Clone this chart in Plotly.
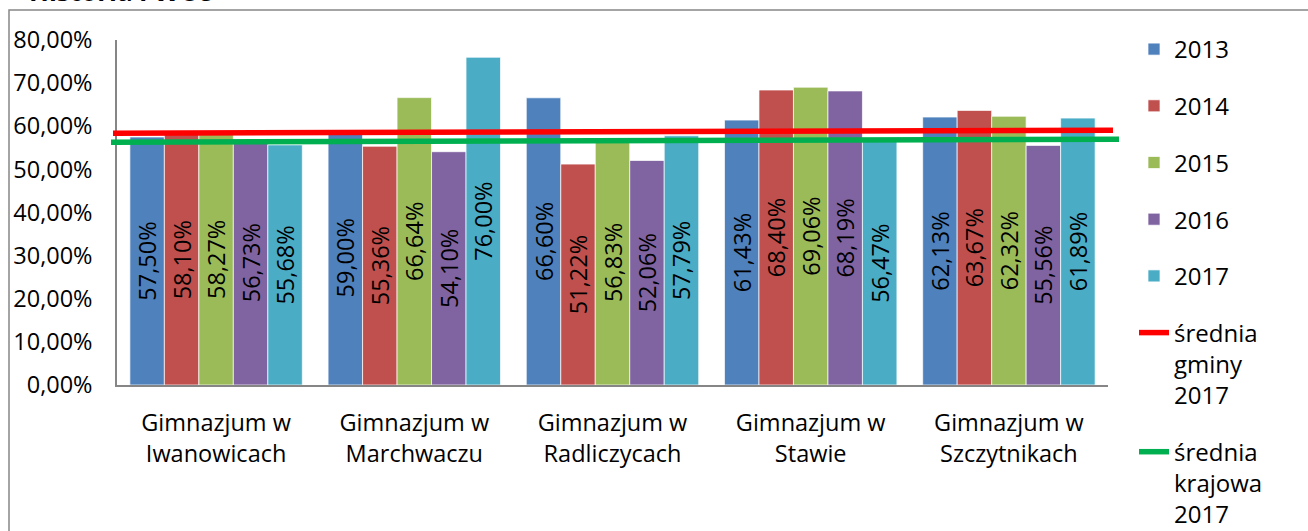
import plotly.graph_objects as go

# --- data ---
schools = [
    "Gimnazjum w<br>Iwanowicach",
    "Gimnazjum w<br>Marchwaczu",
    "Gimnazjum w<br>Radliczycach",
    "Gimnazjum w<br>Stawie",
    "Gimnazjum w<br>Szczytnikach",
]
years = ["2013", "2014", "2015", "2016", "2017"]
val_2013 = [57.50, 59.00, 66.60, 61.43, 62.13]
val_2014 = [58.10, 55.36, 51.22, 68.40, 63.67]
val_2015 = [58.27, 66.64, 56.83, 69.06, 62.32]
val_2016 = [56.73, 54.10, 52.06, 68.19, 55.56]
val_2017 = [55.68, 76.00, 57.79, 56.47, 61.89]

# the two average lines are drawn slightly tilted in the original (start, end)
gmina_avg = [58.4, 59.1]
kraj_avg = [56.3, 57.0]
line_ends = [0, 1]

y_ticks = [0, 10, 20, 30, 40, 50, 60, 70, 80]
y_tick_text = [f"{v:.2f}%".replace(".", ",") for v in y_ticks]

COLORS = ["#4F81BD", "#C0504D", "#9BBB59", "#8064A2", "#4BACC6"]
FONT = "Open Sans"
FS = 23.5
W, H = 1308, 531


def px_x(p):
    return p / W


def px_y(p):
    return 1 - p / H


fig = go.Figure()

for yr, vals, col in zip(years, [val_2013, val_2014, val_2015, val_2016, val_2017], COLORS):
    fig.add_trace(go.Bar(
        x=schools, y=vals, name=yr, legendgroup=yr,
        marker=dict(color=col, line=dict(color="rgba(255,255,255,0.7)", width=1)),
        texttemplate="%{y:.2f}%", textposition="inside", textangle=-90,
        insidetextanchor="middle",
        textfont=dict(family=FONT, size=FS, color="black"),
    ))

# average lines sit on their own x axes so they can poke out past the plot edges
fig.add_trace(go.Scatter(
    x=line_ends, y=gmina_avg, xaxis="x2", yaxis="y", mode="lines",
    name="średnia<br>gminy<br>2017", legendgroup="g",
    line=dict(color="#FF0000", width=5.5),
))
fig.add_trace(go.Scatter(
    x=line_ends, y=kraj_avg, xaxis="x3", yaxis="y", mode="lines",
    name="średnia<br>krajowa<br>2017", legendgroup="k",
    line=dict(color="#00B050", width=5.5),
))

axis_grey = "#868686"

fig.update_layout(
    width=W, height=H,
    template="none",
    margin=dict(l=0, r=0, t=0, b=0, autoexpand=False),
    paper_bgcolor="white", plot_bgcolor="rgba(0,0,0,0)",
    separators=",.",
    barmode="group", bargap=0.13, bargroupgap=0,
    uniformtext=dict(minsize=FS, mode="show"),
    font=dict(family=FONT, size=FS, color="black"),
    xaxis=dict(
        domain=[px_x(117), px_x(1108)],
        showline=True, linecolor=axis_grey, linewidth=1.5,
        showgrid=False, zeroline=False, ticks="",
        tickfont=dict(family=FONT, size=FS, color="black"),
        ticklabelstandoff=16, automargin=False,
    ),
    xaxis2=dict(domain=[px_x(113), px_x(1113)], range=[0, 1], anchor="y",
                visible=False, automargin=False),
    xaxis3=dict(domain=[px_x(111), px_x(1119)], range=[0, 1], anchor="y",
                visible=False, automargin=False),
    yaxis=dict(
        domain=[px_y(385), px_y(40)], range=[0, 80],
        tickvals=y_ticks, ticktext=y_tick_text,
        showline=True, linecolor=axis_grey, linewidth=1.5,
        showgrid=False, zeroline=False, ticks="",
        tickfont=dict(family=FONT, size=FS, color="black"),
        ticklabelstandoff=18, automargin=False,
    ),
    legend=dict(
        x=px_x(1134), y=px_y(27), xanchor="left", yanchor="top",
        traceorder="grouped", tracegroupgap=22.5, valign="top",
        font=dict(family=FONT, size=24, color="black"),
        bgcolor="rgba(0,0,0,0)",
    ),
    showlegend=True,
)

# chart frame (only the top and left edges are visible in the picture)
fig.add_shape(type="rect", xref="paper", yref="paper",
              x0=px_x(9), x1=1.02, y0=-0.05, y1=px_y(10),
              line=dict(color=axis_grey, width=1.5), layer="below")

# title, mostly cut off at the top
fig.add_annotation(text="<b>Historia i WOS</b>", xref="paper", yref="paper",
                   x=px_x(27), y=1, xanchor="left", yanchor="bottom",
                   yshift=-11, showarrow=False,
                   font=dict(family=FONT, size=26, color="black"))

# drop the browser's default body margin so the figure sits at the page corner
fig.write_html("out.html", config={"displayModeBar": False},
               post_script="document.body.style.margin='0';")
